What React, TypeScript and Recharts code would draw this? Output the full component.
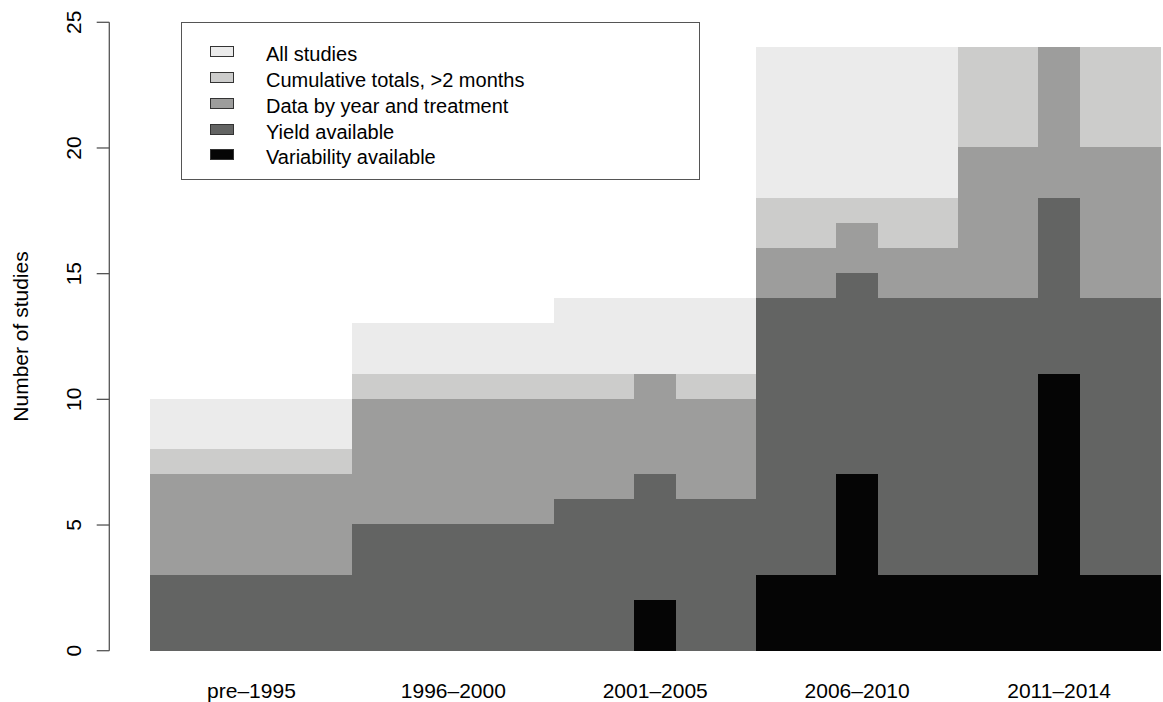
import React from 'react';
import { BarChart, Bar, XAxis, YAxis, Legend } from 'recharts';

// five periods, five columns each (middle column = the extra study)
const periods = ['pre–1995', '1996–2000', '2001–2005', '2006–2010', '2011–2014'];

const allStudies = [
  10, 10, 10, 10, 10, 13, 13, 13, 13, 13, 14, 14, 14, 14, 14,
  24, 24, 24, 24, 24, 24, 24, 24, 24, 24,
];
const cumulative = [
  8, 8, 8, 8, 8, 11, 11, 11, 11, 11, 11, 11, 11, 11, 11,
  18, 18, 18, 18, 18, 24, 24, 24, 24, 24,
];
const byYear = [
  7, 7, 7, 7, 7, 10, 10, 10, 10, 10, 10, 10, 11, 10, 10,
  16, 16, 17, 16, 16, 20, 20, 24, 20, 20,
];
const yieldAvail = [
  3, 3, 3, 3, 3, 5, 5, 5, 5, 5, 6, 6, 7, 6, 6,
  14, 14, 15, 14, 14, 14, 14, 18, 14, 14,
];
const variability = [
  0, 0, 0, 0, 0, 0, 0, 0, 0, 0, 0, 0, 2, 0, 0,
  3, 3, 7, 3, 3, 3, 3, 11, 3, 3,
];

const seriesKeys = ['all', 'cumulative', 'byYear', 'yieldAvail', 'variability'];
const seriesNames = [
  'All studies',
  'Cumulative totals, >2 months',
  'Data by year and treatment',
  'Yield available',
  'Variability available',
];
const seriesColors = ['#ebebeb', '#cccccb', '#9d9d9c', '#636463', '#050505'];
const yTicks = [0, 5, 10, 15, 20, 25];

const data = allStudies.map((v, i) => ({
  col: i,
  all: v,
  cumulative: cumulative[i],
  byYear: byYear[i],
  yieldAvail: yieldAvail[i],
  variability: variability[i],
}));

const font = '"Liberation Sans", Arial, Helvetica, sans-serif';
const axisColor = '#555';
// recharts shrinks bars to 90% if barSize >= band, so stay just under it
const colWidth = (1160 - 150.5) / 25 - 0.05;

const YTick = (props: any) => {
  const { y, payload } = props;
  const x = 81.5;
  return (
    <text
      x={x}
      y={y}
      transform={`rotate(-90, ${x}, ${y})`}
      textAnchor="middle"
      fontSize={21}
      fontFamily={font}
      fill="#000"
    >
      {payload.value}
    </text>
  );
};

const YTitle = () => (
  <text
    x={27.5}
    y={336.5}
    transform="rotate(-90, 27.5, 336.5)"
    textAnchor="middle"
    fontSize={21}
    fontFamily={font}
    fill="#000"
  >
    Number of studies
  </text>
);

const LegendBox = () => (
  <div
    style={{
      position: 'relative',
      width: 519,
      height: 158,
      border: `1.5px solid ${axisColor}`,
      boxSizing: 'border-box',
      background: '#fff',
      fontFamily: font,
    }}
  >
    {seriesNames.map((name, i) => {
      const cy = 28.5 + i * 25.8;
      return (
        <React.Fragment key={name}>
          <div
            style={{
              position: 'absolute',
              left: 28,
              top: cy - 5.5,
              width: 24,
              height: 11,
              background: seriesColors[i],
              border: '1px solid #333',
              boxSizing: 'border-box',
            }}
          />
          <div
            style={{
              position: 'absolute',
              left: 84,
              top: cy - 9.5,
              fontSize: 20,
              lineHeight: '24px',
              color: '#000',
              whiteSpace: 'nowrap',
            }}
          >
            {name}
          </div>
        </React.Fragment>
      );
    })}
  </div>
);

export default function App() {
  return (
    <div style={{ position: 'absolute', left: 0, top: 0, background: '#fff' }}>
      <BarChart
        width={1163}
        height={702}
        data={data}
        margin={{ top: 22.3, right: 3, bottom: 0, left: 0 }}
        barCategoryGap={0}
        barGap={0}
      >
        {seriesKeys.map((k, i) => (
          <XAxis
            key={k}
            xAxisId={k}
            dataKey="col"
            type="category"
            hide={i !== 0}
            height={51.3}
            padding={{ left: 41.2, right: 0 }}
            axisLine={false}
            tickLine={false}
            tickSize={0}
            tickMargin={32.6}
            interval={0}
            tickFormatter={(v: number) => (v % 5 === 2 ? periods[Math.floor(v / 5)] : '')}
            tick={{ fontSize: 21, fill: '#000', fontFamily: font }}
          />
        ))}
        <YAxis
          width={109.3}
          domain={[0, 25]}
          ticks={yTicks}
          interval={0}
          tickSize={12.6}
          axisLine={{ stroke: axisColor, strokeWidth: 1.3 }}
          tickLine={{ stroke: axisColor, strokeWidth: 1.3 }}
          tick={<YTick />}
          label={{ content: () => <YTitle /> }}
        />
        <Legend
          verticalAlign="middle"
          align="center"
          layout="horizontal"
          wrapperStyle={{ left: 181, top: 22.3, width: 519, height: 158 }}
          content={() => <LegendBox />}
        />
        {seriesKeys.map((k, i) => (
          <Bar
            key={k}
            xAxisId={k}
            dataKey={k}
            name={seriesNames[i]}
            fill={seriesColors[i]}
            stroke={seriesColors[i]}
            strokeWidth={1.2}
            shapeRendering="crispEdges"
            barSize={colWidth}
            isAnimationActive={false}
          />
        ))}
      </BarChart>
    </div>
  );
}
